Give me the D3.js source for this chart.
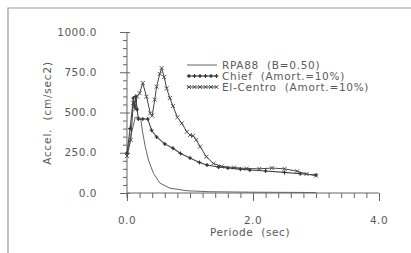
<!DOCTYPE html>
<html>
<head>
<meta charset="utf-8">
<script src="https://cdn.jsdelivr.net/npm/d3@7"></script>
<style>
  body { margin: 0; background: #fff; }
  svg { display: block; }
  text { font-family: "DejaVu Sans", sans-serif; fill: #5a5a5a; white-space: pre; }
</style>
</head>
<body>
<svg></svg>
<script>
let width = 411;
let height = 253;

// periods (sec) and accelerations (cm/sec2)
let rpaT = [0, 0.13, 0.2, 0.22, 0.25, 0.29, 0.34, 0.42, 0.52, 0.68, 0.95, 1.3, 2.0, 3.0];
let rpaA = [250, 470, 470, 453, 373, 288, 205, 122, 62, 30, 14, 8, 5, 3];

let chiefT = [0, 0.05, 0.1, 0.12, 0.14, 0.16, 0.18, 0.25, 0.33, 0.39, 0.47, 0.6, 0.73, 0.85, 1.0, 1.15, 1.27, 1.45, 1.6, 1.8, 1.95, 2.2, 2.5, 2.75, 3.0];
let chiefA = [248, 400, 590, 540, 600, 520, 460, 460, 460, 390, 348, 305, 278, 245, 217, 190, 174, 162, 155, 148, 143, 137, 128, 120, 112];

let elcT = [0, 0.06, 0.1, 0.13, 0.16, 0.2, 0.25, 0.31, 0.37, 0.4, 0.44, 0.47, 0.52, 0.55, 0.59, 0.63, 0.68, 0.73, 0.8, 0.87, 0.95, 1.0, 1.05, 1.1, 1.16, 1.26, 1.37, 1.5, 1.7, 1.9, 2.1, 2.3, 2.5, 2.7, 2.85, 3.0];
let elcA = [230, 330, 560, 520, 600, 620, 683, 598, 495, 480, 580, 660, 740, 776, 720, 650, 590, 540, 470, 433, 380, 360, 355, 330, 288, 225, 184, 165, 158, 152, 150, 155, 150, 135, 118, 108];

let xTicks = [0, 2, 4];
let yTicks = [0, 250, 500, 750, 1000];
let legendLabels = ['RPA88  (B=0.50)', 'Chief  (Amort.=10%)', 'El-Centro  (Amort.=10%)'];

let rpa = rpaT.map((t, i) => ({ t: t, a: rpaA[i] }));
let chief = chiefT.map((t, i) => ({ t: t, a: chiefA[i] }));
let elc = elcT.map((t, i) => ({ t: t, a: elcA[i] }));

let xScale = d3.scaleLinear().domain([0, 4]).range([127, 379]);
let yScale = d3.scaleLinear().domain([0, 1000]).range([193, 32]);

let svg = d3.select('svg')
        .attr('width', width)
        .attr('height', height);

// scanned frame
svg.append('path')
        .attr('d', 'M8,253V8H411')
        .attr('fill', 'none')
        .attr('stroke', '#999')
        .attr('stroke-width', 1.2);

let ink = '#666';

// x axis: minor ticks every 0.2 hanging below
let xAxis = d3.axisBottom(xScale)
        .tickValues(d3.range(0, 4.01, 0.2))
        .tickSize(5)
        .tickFormat('');
let gx = svg.append('g')
        .attr('transform', 'translate(0,193)')
        .call(xAxis);
gx.select('.domain').attr('stroke', ink).attr('d', 'M127,0H379');
gx.selectAll('line').attr('stroke', ink);
gx.selectAll('.tick')
        .filter((d, i) => i % 10 === 0)
        .select('line')
        .attr('y2', 8);

svg.selectAll('.xlab')
        .data(xTicks)
        .enter()
        .append('text')
        .attr('x', d => xScale(d))
        .attr('y', 224)
        .style('text-anchor', 'middle')
        .style('font-size', '10.5px')
        .style('letter-spacing', '0.5px')
        .text(d => d.toFixed(1));

// y axis: minor ticks every 50, longer at labelled values
let yAxis = d3.axisLeft(yScale)
        .tickValues(d3.range(0, 1001, 50))
        .tickSize(4)
        .tickFormat('');
let gy = svg.append('g')
        .attr('transform', 'translate(127,0)')
        .call(yAxis);
gy.select('.domain').attr('stroke', ink).attr('d', 'M0,' + yScale(1000) + 'V' + (yScale(0) + 5));
gy.selectAll('line').attr('stroke', ink);
gy.selectAll('.tick')
        .filter(d => d % 250 === 0)
        .select('line')
        .attr('x1', 3)
        .attr('x2', -7);

svg.selectAll('.ylab')
        .data(yTicks)
        .enter()
        .append('text')
        .attr('x', 97)
        .attr('y', d => yScale(d))
        .attr('dy', '0.35em')
        .style('text-anchor', 'end')
        .style('font-size', '10.5px')
        .style('letter-spacing', '0.5px')
        .text(d => d.toFixed(1));

svg.append('text')
        .attr('x', 250)
        .attr('y', 236)
        .style('text-anchor', 'middle')
        .style('font-size', '10.5px')
        .style('letter-spacing', '0.6px')
        .text('Periode  (sec)');

svg.append('text')
        .attr('transform', 'rotate(-90)')
        .attr('x', -113)
        .attr('y', 47)
        .attr('dy', '0.35em')
        .style('text-anchor', 'middle')
        .style('font-size', '10.5px')
        .style('letter-spacing', '0.8px')
        .text('Accel.  (cm/sec2)');

let line = d3.line()
        .x(d => xScale(d.t))
        .y(d => yScale(d.a));

// markers
function star(g, x, y) {
        g.append('path')
                .attr('d', `M${x - 2},${y}H${x + 2}M${x},${y - 2}V${y + 2}`)
                .attr('stroke', '#333')
                .attr('stroke-width', 1.1);
        g.append('circle')
                .attr('cx', x).attr('cy', y).attr('r', 1)
                .attr('fill', '#333');
}
function cross(g, x, y) {
        g.append('path')
                .attr('d', `M${x - 2},${y - 2}L${x + 2},${y + 2}M${x - 2},${y + 2}L${x + 2},${y - 2}`)
                .attr('stroke', '#444')
                .attr('stroke-width', 0.9);
}

svg.append('path')
        .datum(rpa)
        .attr('d', line)
        .attr('fill', 'none')
        .attr('stroke', '#666')
        .attr('stroke-width', 1);

svg.append('path')
        .datum(chief)
        .attr('d', line)
        .attr('fill', 'none')
        .attr('stroke', '#444')
        .attr('stroke-width', 1.1);
let gc = svg.append('g');
chief.forEach(d => star(gc, xScale(d.t), yScale(d.a)));

svg.append('path')
        .datum(elc)
        .attr('d', line)
        .attr('fill', 'none')
        .attr('stroke', '#444')
        .attr('stroke-width', 1);
let ge = svg.append('g');
elc.forEach(d => cross(ge, xScale(d.t), yScale(d.a)));

// legend
let legendY = [65, 76, 87];
let lg = svg.append('g');
legendLabels.forEach((lab, i) => {
        lg.append('line')
                .attr('x1', 187).attr('x2', 217)
                .attr('y1', legendY[i]).attr('y2', legendY[i])
                .attr('stroke', i === 0 ? '#666' : '#444')
                .attr('stroke-width', i === 1 ? 1.1 : 1);
        if (i > 0) {
                d3.range(189, 218, 5.5).forEach(x => {
                        if (i === 1) star(lg, x, legendY[i]);
                        else cross(lg, x, legendY[i]);
                });
        }
        lg.append('text')
                .attr('x', 222)
                .attr('y', legendY[i])
                .attr('dy', '0.35em')
                .style('font-size', '10.5px')
                .style('letter-spacing', '0.7px')
                .text(lab);
});
</script>
</body>
</html>
